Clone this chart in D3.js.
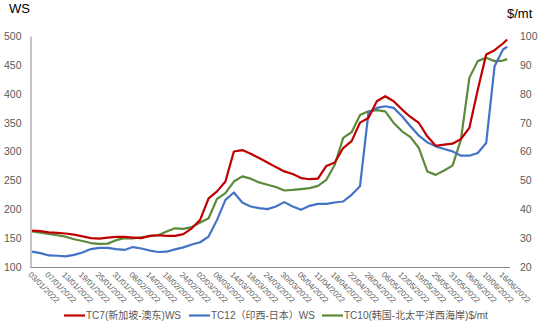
<!DOCTYPE html>
<html><head><meta charset="utf-8">
<script src="https://cdn.jsdelivr.net/npm/d3@7"></script>
<style>
html,body{margin:0;padding:0;background:#fff;}
svg{display:block;}
text{font-family:"Liberation Sans","Noto Sans CJK SC",sans-serif;}
</style></head>
<body><svg id="c" width="545" height="331"></svg>
<script>
// tick labels every 4 trading days
const tickLabels = ["03/01/2022","07/01/2022","13/01/2022","19/01/2022","25/01/2022","31/01/2022","08/02/2022","14/02/2022","18/02/2022","24/02/2022","02/03/2022","08/03/2022","14/03/2022","18/03/2022","24/03/2022","30/03/2022","05/04/2022","11/04/2022","18/04/2022","22/04/2022","28/04/2022","06/05/2022","12/05/2022","19/05/2022","25/05/2022","31/05/2022","06/06/2022","10/06/2022","16/06/2022"];
const tickIndex = tickLabels.map((d,i)=>i*4);
// sampled trading-day index
const dayIndex = [0,2,4,6,8,10,12,14,16,18,20,22,24,26,28,30,32,34,36,38,40,42,44,46,48,50,52,54,56,58,60,62,64,66,68,70,72,74,76,78,80,82,84,86,88,90,92,94,96,98,100,102,104,106,108,110,112,113];
const tc7 = [163,162,160,159,158,156,153,150,149,151,152,152,151,150,154,155,154,154,157,167,182,219,231,248,300,302.5,296,288.7,281,273,265.5,261,254,252,253,275,281,306,318,350,358,387,395.7,387,372.6,359.8,349.4,326.3,310,311.8,313.5,321.6,340.8,407,468,475.5,487,494];
const tc12 = [126.6,124,120,119.5,118.5,121,125,131,133,133,131,129.5,134.5,132,128.5,126,126.5,130.5,134,139,142.8,152.7,181.6,216.3,229,211.7,204.8,201.9,200.2,204.8,212.3,204.8,199,205.9,209.4,209.4,211.7,213.4,225,240,367,375.5,378.3,375.5,361,343.6,327.4,315.8,308.9,304.3,300.2,292.7,292.7,297.3,314.7,447.8,476.7,481.4];
const tc10 = [32.3,31.9,31.5,31.0,30.5,29.6,29.0,28.3,28.0,28.1,29.3,30.0,29.9,30.3,30.7,31.0,32.3,33.4,33.2,33.8,35.4,36.9,43.6,45.6,49.6,51.4,50.6,49.3,48.5,47.7,46.5,46.7,47.0,47.3,48.1,50.2,55.4,64.7,66.7,72.6,73.9,74.3,73.9,69.9,67.0,65.0,61.2,53.1,51.9,53.4,55.1,64.1,85.5,91.3,92.5,91.3,91.5,92];
const leftTicks = [100,150,200,250,300,350,400,450,500];
const rightTicks = [20,30,40,50,60,70,80,90,100];
const seriesNames = ["TC7(新加坡-澳东)WS","TC12（印西-日本）WS","TC10(韩国-北太平洋西海岸)$/mt"];
const colors = ["#C00000","#4472C4","#5A8A3A"];

const svg = d3.select("#c");
const x = d3.scaleLinear().domain([0,113]).range([32,507.2]);
const yL = d3.scaleLinear().domain([100,500]).range([267,36]);
const yR = d3.scaleLinear().domain([20,100]).range([267,36]);

// axes
const axL = svg.append("g").attr("transform","translate(30.5,0)")
  .call(d3.axisLeft(yL).tickValues(leftTicks).tickSize(0).tickPadding(9));
axL.select(".domain").attr("stroke","#898989");
axL.selectAll("text").attr("fill","#595959").style("font-size","10.5px");

const axR = svg.append("g").attr("transform","translate(510,0)")
  .call(d3.axisRight(yR).tickValues(rightTicks).tickSize(0).tickPadding(10));
axR.select(".domain").remove();
axR.selectAll("text").attr("fill","#595959").style("font-size","10.5px");

const axB = svg.append("g").attr("transform","translate(0,267.5)")
  .call(d3.axisBottom(x).tickValues(tickIndex).tickSize(0).tickFormat((d,i)=>tickLabels[i]));
axB.select(".domain").attr("stroke","#898989").attr("d","M30.5,0H510");
axB.selectAll("text").attr("fill","#595959").style("font-size","8px")
  .attr("text-anchor","start").attr("transform","translate(-3,6) rotate(45)").attr("dy","0.3em").attr("y",0).attr("x",0);

svg.append("text").attr("x",9).attr("y",13).text("WS").style("font-size","13px").attr("fill","#000");
svg.append("text").attr("x",507).attr("y",18).text("$/mt").style("font-size","13px").attr("fill","#000");

const lineL = d3.line().x((d,i)=>x(dayIndex[i])).y(d=>yL(d));
const lineR = d3.line().x((d,i)=>x(dayIndex[i])).y(d=>yR(d));
svg.append("path").datum(tc10).attr("d",lineR).attr("fill","none").attr("stroke",colors[2]).attr("stroke-width",2.2).attr("stroke-linejoin","round");
svg.append("path").datum(tc12).attr("d",lineL).attr("fill","none").attr("stroke",colors[1]).attr("stroke-width",2.2).attr("stroke-linejoin","round");
svg.append("path").datum(tc7).attr("d",lineL).attr("fill","none").attr("stroke",colors[0]).attr("stroke-width",2.2).attr("stroke-linejoin","round");

// legend
const legX = [64,189,322];
const lg = svg.append("g");
seriesNames.forEach((n,i)=>{
  lg.append("line").attr("x1",legX[i]).attr("x2",legX[i]+21).attr("y1",315.5).attr("y2",315.5).attr("stroke",colors[i]).attr("stroke-width",2.2);
  lg.append("text").attr("x",legX[i]+22).attr("y",319).text(n).style("font-size","10px").attr("fill","#595959");
});
</script></body></html>
